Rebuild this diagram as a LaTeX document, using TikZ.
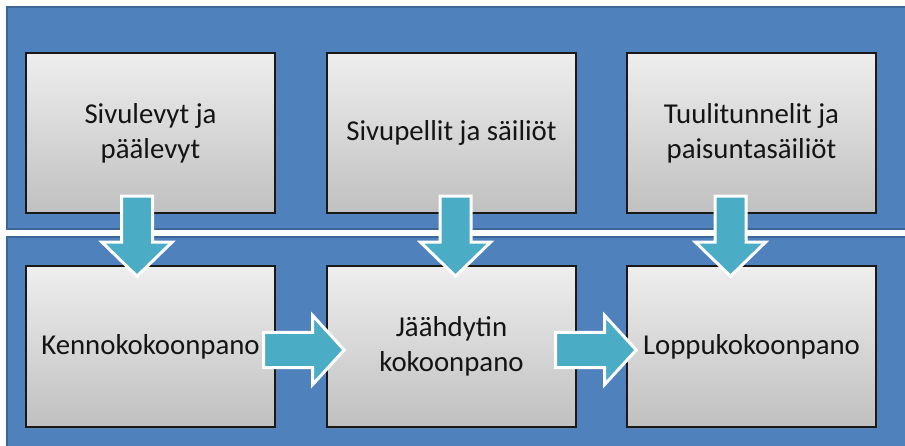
\documentclass[tikz,border=0pt]{standalone}
\usepackage{fontspec}
\setmainfont{Carlito}
\usetikzlibrary{calc,shadows}

\definecolor{bandblue}{HTML}{4F81BD}
\definecolor{bandedge}{HTML}{3C6696}
\definecolor{arrowteal}{HTML}{4BACC6}
\definecolor{boxtop}{HTML}{EEEEEE}
\definecolor{boxbottom}{HTML}{C0C0C0}
\definecolor{textdark}{HTML}{141414}

\tikzset{
  band/.style={fill=bandblue, draw=bandedge, line width=2pt},
  stagebox/.style={draw=black!90, line width=1.6pt,
    top color=boxtop, bottom color=boxbottom,
    minimum width=249pt, minimum height=160pt,
    align=center, font=\fontsize{28.8}{35}\selectfont, text=textdark,
    drop shadow={shadow xshift=1.5pt, shadow yshift=-1.5pt, opacity=0.35}},
  blockarrow/.style={fill=arrowteal, draw=white, line width=3pt, line join=miter},
  downarrow/.pic={
    \path[blockarrow] (-15.5,-80) -- (15.5,-80) -- (15.5,-34) -- (35,-34)
      -- (0,0) -- (-35,-34) -- (-15.5,-34) -- cycle;
  },
  rightarrow/.pic={
    \path[blockarrow] (-80.5,-17.5) -- (-31.5,-17.5) -- (-31.5,-34.5)
      -- (0,0) -- (-31.5,34.5) -- (-31.5,17.5) -- (-80.5,17.5) -- cycle;
  }
}

\begin{document}
\begin{tikzpicture}[x=1pt, y=-1pt]
  \useasboundingbox (0,0) rectangle (905,446);
  \fill[white] (0,0) rectangle (905,446);

  % the two stage bands
  \path[band] (7,7) rectangle (912,229);
  \path[band] (7,237) rectangle (912,452);

  % parts made in advance
  \node[stagebox] (t1) at (150.5,133) {Sivulevyt ja\\päälevyt};
  \node[stagebox] (t2) at (451.5,133) {Sivupellit ja säiliöt};
  \node[stagebox] (t3) at (751.5,133) {Tuulitunnelit ja\\paisuntasäiliöt};

  % assembly line
  \node[stagebox, minimum height=161pt] (b1) at (150.5,346.5) {Kennokokoonpano};
  \node[stagebox, minimum height=161pt] (b2) at (451.5,346.5) {Jäähdytin\\kokoonpano};
  \node[stagebox, minimum height=161pt] (b3) at (751.5,346.5) {Loppukokoonpano};

  % feeds from the upper stage into the assembly
  \pic at ($(b1.north)+(-13.5,11)$) {downarrow};
  \pic at ($(b2.north)+(4,11)$) {downarrow};
  \pic at ($(b3.north)+(-21,11)$) {downarrow};

  % flow along the assembly line
  \pic at ($(b2.west)+(18,3.5)$) {rightarrow};
  \pic at ($(b3.west)+(10,3.5)$) {rightarrow};
\end{tikzpicture}
\end{document}
